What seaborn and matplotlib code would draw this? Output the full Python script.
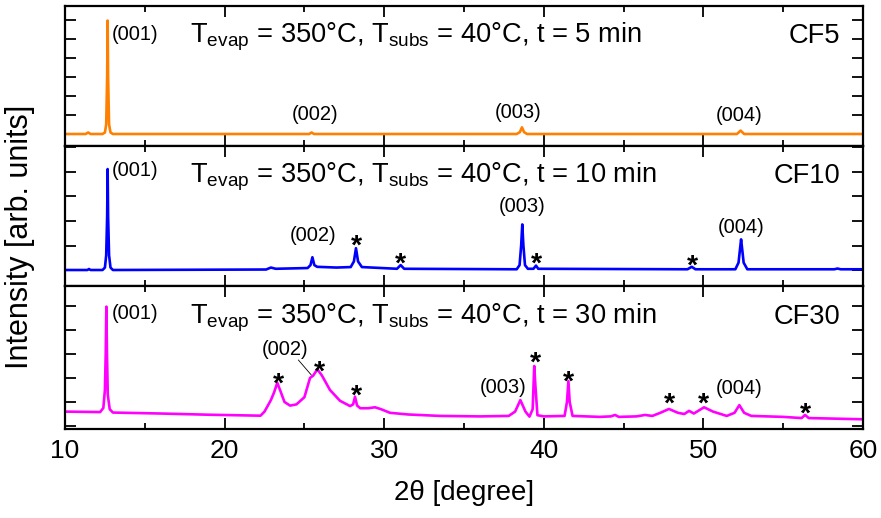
import matplotlib
matplotlib.use("Agg")
import matplotlib.pyplot as plt
import seaborn as sns
import pandas as pd
from matplotlib.ticker import MultipleLocator

sns.set_theme(style="ticks")
plt.rcParams['font.family'] = ['Liberation Sans', 'DejaVu Sans']
plt.rcParams['mathtext.fontset'] = 'custom'
plt.rcParams['mathtext.rm'] = 'Liberation Sans'
plt.rcParams['mathtext.it'] = 'Liberation Sans:italic'
plt.rcParams['text.color'] = 'black'
plt.rcParams['axes.labelcolor'] = 'black'
plt.rcParams['xtick.color'] = 'black'
plt.rcParams['ytick.color'] = 'black'

# ---------------- data ----------------
cf5_x = [10, 11.3, 11.45, 11.6, 12.35, 12.5, 12.58, 12.64, 12.67, 12.70, 12.76, 12.85, 13.0,
         25.3, 25.45, 25.6, 38.3, 38.5, 38.63, 38.76, 38.95, 52.1, 52.33, 52.55, 60]
cf5_y = [0, 0, 0.08, 0, 0, 0.08, 0.5, 3.0, 5.97, 3.0, 0.5, 0.08, 0,
         0, 0.08, 0, 0, 0.1, 0.35, 0.1, 0, 0, 0.18, 0, 0]

cf10_x = [10, 11.4, 11.5, 11.6, 12.35, 12.5, 12.58, 12.64, 12.67, 12.70, 12.76, 12.85, 13.0,
          22.6, 22.9, 23.2, 25.2, 25.38, 25.5, 25.62, 25.8, 27.0, 27.9, 28.1, 28.23, 28.36, 28.6,
          30.8, 31.03, 31.25, 38.3, 38.48, 38.58, 38.65, 38.72, 38.82, 39.0, 39.35, 39.51, 39.65,
          49.0, 49.27, 49.5, 52.0, 52.2, 52.3, 52.36, 52.42, 52.52, 52.75, 58.2, 58.4, 58.6, 60]
cf10_y = [0, 0, 0.04, 0, 0, 0.1, 0.6, 2.2, 4.12, 2.2, 0.6, 0.1, 0,
          0.02, 0.1, 0.05, 0.08, 0.2, 0.52, 0.2, 0.13, 0.1, 0.12, 0.35, 0.89, 0.35, 0.12,
          0.05, 0.2, 0.05, 0.03, 0.2, 1.0, 1.86, 1.0, 0.2, 0.05, 0.05, 0.18, 0.05,
          0.03, 0.13, 0.03, 0.03, 0.3, 0.9, 1.25, 0.9, 0.3, 0.03, 0.03, 0.06, 0.03, 0.03]

cf30_x = [10, 12.2, 12.4, 12.5, 12.55, 12.59, 12.63, 12.68, 12.8, 13.0, 16, 19, 22.25, 22.5,
          22.9, 23.1, 23.3, 23.5, 23.75, 24.1, 24.5, 25.0, 25.35, 25.55, 25.81, 26.1, 26.6,
          27.23, 27.86, 28.05, 28.17, 28.3, 28.5, 29.0, 29.42, 29.8, 30.36, 31.5, 33.5, 36.0,
          37.8, 38.2, 38.53, 38.85, 39.1, 39.3, 39.4, 39.47, 39.6, 40.0, 41.3, 41.45, 41.54,
          41.62, 41.8, 43.5, 44.2, 44.46, 44.7, 45.8, 46.34, 46.8, 47.3, 47.84, 48.4, 48.8,
          49.1, 49.4, 50.04, 50.6, 51.46, 51.95, 52.25, 52.55, 53.0, 55.0, 56.15, 56.37,
          56.6, 58.0, 60]
cf30_y = [0.6, 0.58, 0.75, 1.5, 3.0, 4.97, 3.0, 1.3, 0.7, 0.56, 0.52, 0.47, 0.43, 0.6,
          1.08, 1.4, 1.8, 1.45, 1.0, 0.85, 0.9, 1.2, 2.0, 2.1, 2.36, 2.1, 1.5,
          1.05, 0.83, 0.9, 1.22, 0.85, 0.74, 0.74, 0.78, 0.7, 0.55, 0.48, 0.42, 0.4,
          0.42, 0.6, 1.08, 0.6, 0.39, 0.7, 2.5, 1.7, 0.45, 0.4, 0.42, 1.0, 1.87,
          1.0, 0.42, 0.38, 0.4, 0.46, 0.38, 0.4, 0.46, 0.42, 0.55, 0.71, 0.55, 0.5,
          0.63, 0.52, 0.78, 0.6, 0.42, 0.55, 0.87, 0.55, 0.42, 0.38, 0.33, 0.46,
          0.33, 0.31, 0.28]

sample_names = ["CF5", "CF10", "CF30"]
times = ["5", "10", "30"]
colors = ["#FF8000", "#0000FF", "#FF00FF"]

# peak labels: (text, x, y)
labels_cf5 = [("(002)", 25.66, 1.03), ("(003)", 38.41, 1.15), ("(004)", 52.22, 1.0)]
labels_cf10 = [("(002)", 25.52, 1.39), ("(003)", 38.65, 2.58), ("(004)", 52.36, 1.74)]
labels_cf30 = [("(002)", 23.78, 3.17), ("(003)", 37.46, 1.61), ("(004)", 52.25, 1.57)]
label001_y = [5.25, 4.08, 4.7]
stars_cf5 = []
stars_cf10 = [(28.23, 1.33), (31.03, 0.61), (39.51, 0.61), (49.33, 0.52)]
stars_cf30 = [(23.35, 2.1), (25.93, 2.6), (28.23, 1.64), (39.45, 3.0), (41.54, 2.22),
              (47.86, 1.29), (49.99, 1.29), (56.37, 0.875)]

xs = [cf5_x, cf10_x, cf30_x]
ys = [cf5_y, cf10_y, cf30_y]
peak_labels = [labels_cf5, labels_cf10, labels_cf30]
stars = [stars_cf5, stars_cf10, stars_cf30]
ylims = [(-0.632, 6.737), (-0.653, 5.06), (-0.125, 5.83)]

# ---------------- figure ----------------
fig = plt.figure(figsize=(8.81, 5.18), dpi=100)
gs = fig.add_gridspec(3, 1, height_ratios=[140, 140, 143], hspace=0,
                      left=0.0738, right=0.9796, top=0.9884, bottom=0.1718)
axes = [fig.add_subplot(gs[i]) for i in range(3)]

STAR_FS = 20.5
for i, ax in enumerate(axes):
    df = pd.DataFrame({"x": xs[i], "y": ys[i]})
    sns.lineplot(data=df, x="x", y="y", ax=ax, color=colors[i], linewidth=1.9,
                 estimator=None, sort=False)
    ax.set_xlim(10, 60)
    ax.set_ylim(*ylims[i])
    ax.set_xlabel("")
    ax.set_ylabel("")
    ax.xaxis.set_major_locator(MultipleLocator(10))
    ax.xaxis.set_minor_locator(MultipleLocator(5))
    ax.yaxis.set_major_locator(MultipleLocator(1))
    ax.tick_params(which="major", direction="in", top=True, right=True,
                   length=8, width=1.3, labelsize=19, pad=7, color="black",
                   labelcolor="black")
    ax.tick_params(which="minor", direction="in", top=True, right=True,
                   length=4.5, width=1.3, color="black")
    ax.tick_params(axis="y", which="both", labelleft=False)
    if i < 2:
        ax.tick_params(axis="x", which="both", labelbottom=False)
    for s in ax.spines.values():
        s.set_linewidth(1.6)
        s.set_color("black")

    title = ("T$_{\\mathrm{evap}}$ = 350°C, T$_{\\mathrm{subs}}$ = 40°C, t = "
             + times[i] + " min")
    ax.text(0.1566, 0.736, title, transform=ax.transAxes, fontsize=19.6,
            ha="left", va="baseline", color="black")
    ax.text(0.971, 0.736, sample_names[i], transform=ax.transAxes, fontsize=19.6,
            ha="right", va="baseline", color="black")
    ax.text(12.92, label001_y[i], "(001)", fontsize=14.5, ha="left", va="center",
            color="black")
    for txt, lx, ly in peak_labels[i]:
        ax.text(lx, ly, txt, fontsize=14.5, ha="center", va="center", color="black")
    for sx, sy in stars[i]:
        ax.annotate("*", xy=(sx, sy), xytext=(0, -0.58 * STAR_FS),
                    textcoords="offset points", fontsize=STAR_FS,
                    fontweight="bold", ha="center", va="baseline", color="black")

# leader line for (002) in CF30
axes[2].plot([24.62, 25.43], [2.75, 2.125], color="black", linewidth=0.6)

fig.text(0.023, 0.543, "Intensity [arb. units]", rotation=90, fontsize=22,
         ha="center", va="center", color="black")
fig.text(0.527, 0.048, "2θ [degree]", fontsize=20, ha="center", va="center",
         color="black")

fig.savefig("out.png", dpi=100)
